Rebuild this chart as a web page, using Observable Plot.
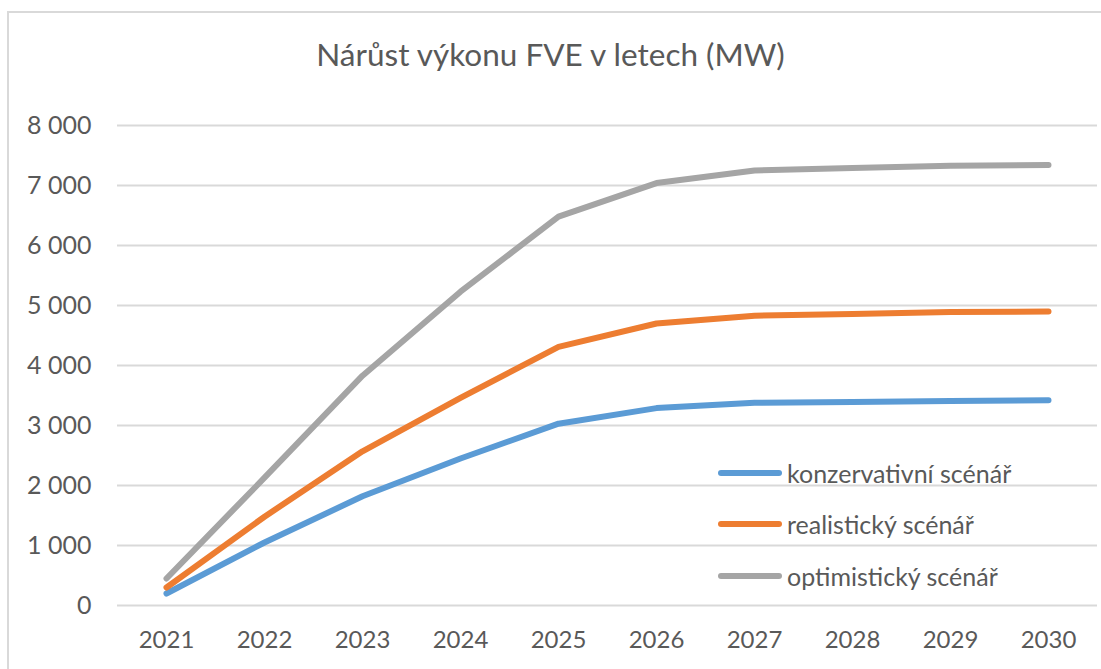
<!DOCTYPE html>
<html>
<head>
<meta charset="utf-8">
<script src="https://cdn.jsdelivr.net/npm/d3@7"></script>
<script src="https://cdn.jsdelivr.net/npm/@observablehq/plot@0.6"></script>
<style>
  html, body { margin: 0; padding: 0; background: #fff; }
  #wrap { position: relative; width: 1101px; height: 669px; overflow: hidden; font-family: Lato, "Open Sans", sans-serif; }
  #frame { position: absolute; left: 7px; top: 11px; width: 1100px; height: 700px; border: 2px solid #d9d9d9; box-sizing: border-box; }
  #title { position: absolute; left: 0; width: 1101px; top: 35px; text-align: center; font-size: 31.5px; color: #595959; }
  #chart { position: absolute; left: 0; top: 0; }
  #legend { position: absolute; left: 718px; top: 447px; color: #595959; font-size: 25px; }
  .item { display: flex; align-items: center; height: 51.5px; }
  .swatch { width: 64px; height: 6px; border-radius: 3px; margin-right: 5px; }
</style>
</head>
<body>
<div id="wrap">
  <div id="frame"></div>
  <div id="chart"></div>
  <div id="title"></div>
  <div id="legend"></div>
</div>
<script>
const titleText = "Nárůst výkonu FVE v letech (MW)";
const years = ["2021","2022","2023","2024","2025","2026","2027","2028","2029","2030"];
const seriesNames = ["konzervativní scénář", "realistický scénář", "optimistický scénář"];
const seriesColors = ["#5B9BD5", "#ED7D31", "#A5A5A5"];
const konzervativni = [200, 1050, 1820, 2450, 3030, 3290, 3380, 3390, 3410, 3420];
const realisticky   = [300, 1480, 2570, 3460, 4310, 4700, 4830, 4860, 4890, 4900];
const optimisticky  = [450, 2130, 3830, 5230, 6480, 7040, 7250, 7290, 7330, 7340];
const yTicks = [0, 1000, 2000, 3000, 4000, 5000, 6000, 7000, 8000];

const seriesValues = [konzervativni, realisticky, optimisticky];
const data = [];
seriesNames.forEach((name, i) => {
  years.forEach((yr, j) => data.push({year: yr, value: seriesValues[i][j], series: name}));
});

const fmt = v => d3.format(",")(v).replace(/,/g, " ");

const chart = Plot.plot({
  width: 1101,
  height: 669,
  marginLeft: 117,
  marginRight: 4,
  marginTop: 125,
  marginBottom: 64,
  style: { fontFamily: "Lato, 'Open Sans', sans-serif", background: "transparent", color: "#595959" },
  x: { type: "point", domain: years, padding: 0.5, label: null },
  y: { domain: [0, 8000], label: null },
  color: { domain: seriesNames, range: seriesColors },
  marks: [
    Plot.ruleY(yTicks, { stroke: "#d9d9d9", strokeWidth: 2 }),
    Plot.axisY({ ticks: yTicks, tickSize: 0, tickPadding: 26, tickFormat: fmt, fontSize: 25, label: null, fill: "#595959" }),
    Plot.axisX({ tickSize: 0, tickPadding: 25, fontSize: 24, label: null, fill: "#595959" }),
    Plot.line(data, { x: "year", y: "value", z: "series", stroke: "series", strokeWidth: 6, strokeLinecap: "round", strokeLinejoin: "round" })
  ]
});
document.getElementById("chart").appendChild(chart);
document.getElementById("title").textContent = titleText;

const legend = document.getElementById("legend");
seriesNames.forEach((name, i) => {
  const item = document.createElement("div");
  item.className = "item";
  const sw = document.createElement("div");
  sw.className = "swatch";
  sw.style.background = seriesColors[i];
  const label = document.createElement("span");
  label.textContent = name;
  item.appendChild(sw);
  item.appendChild(label);
  legend.appendChild(item);
});
</script>
</body>
</html>
